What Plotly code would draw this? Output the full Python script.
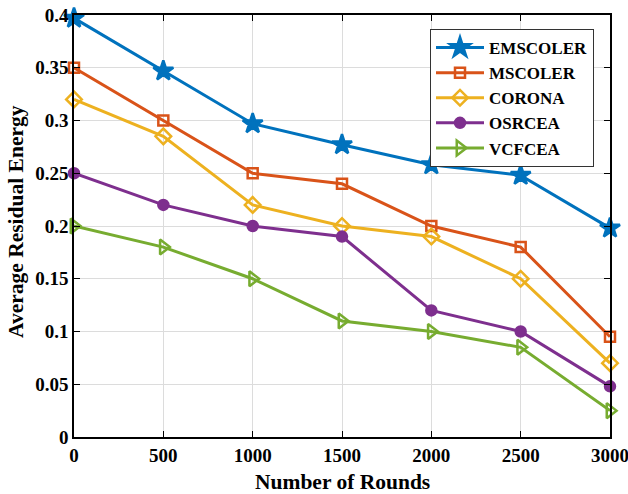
import plotly.graph_objects as go

rounds = [0, 500, 1000, 1500, 2000, 2500, 3000]
emscoler = [0.397, 0.347, 0.297, 0.277, 0.258, 0.248, 0.198]
mscoler = [0.35, 0.30, 0.25, 0.24, 0.20, 0.18, 0.095]
corona = [0.32, 0.285, 0.22, 0.20, 0.19, 0.15, 0.07]
osrcea = [0.25, 0.22, 0.20, 0.19, 0.12, 0.10, 0.048]
vcfcea = [0.20, 0.18, 0.15, 0.11, 0.10, 0.085, 0.025]
x_ticks = [0, 500, 1000, 1500, 2000, 2500, 3000]
y_ticks = [0, 0.05, 0.1, 0.15, 0.2, 0.25, 0.3, 0.35, 0.4]
y_ticklabels = ["0", "0.05", "0.1", "0.15", "0.2", "0.25", "0.3", "0.35", "0.4"]

series = [
    ("EMSCOLER", emscoler, "#0072BD", "star", 15),
    ("MSCOLER", mscoler, "#D95319", "square-open", 10),
    ("CORONA", corona, "#EDB120", "diamond-open", 12),
    ("OSRCEA", osrcea, "#7E2F8E", "circle", 10),
    ("VCFCEA", vcfcea, "#77AC30", "triangle-right-open", 13),
]

fig = go.Figure()
for name, vals, color, sym, size in series:
    fig.add_trace(go.Scatter(
        x=rounds, y=vals, name="<b>%s</b>" % name, mode="lines+markers",
        line=dict(color=color, width=3),
        marker=dict(symbol=sym, size=size, color=color,
                    line=dict(color=color, width=2.5)),
        cliponaxis=False,
    ))

W, H = 628, 494
L, R, T, B = 74, 18, 15, 57
pw = W - L - R
ph = H - T - B

tickfont = dict(family="Liberation Serif", size=19, color="black")
fig.update_layout(
    width=W, height=H,
    margin=dict(l=L, r=R, t=T, b=B),
    paper_bgcolor="white", plot_bgcolor="white",
    font=dict(family="Liberation Serif", size=17, color="black"),
    showlegend=True,
    legend=dict(x=(430 - 74) / pw, y=(437 - 29) / ph, xanchor="left", yanchor="top",
                bgcolor="white", bordercolor="#333", borderwidth=1,
                font=dict(family="Liberation Serif", size=17, color="black"),
                tracegroupgap=0, itemwidth=48),
    xaxis=dict(range=[0, 3000], tickvals=x_ticks,
               ticktext=["<b>%d</b>" % v for v in x_ticks], tickfont=tickfont,
               showgrid=True, gridcolor="#dcdcdc", gridwidth=1,
               showline=True, linecolor="black", linewidth=1.5, mirror="ticks",
               ticks="inside", ticklen=6, tickcolor="black",
               ticklabeloverflow="allow",
               automargin=False, zeroline=False),
    yaxis=dict(range=[0, 0.4], tickvals=y_ticks,
               ticktext=["<b>%s</b>" % t for t in y_ticklabels], tickfont=tickfont,
               showgrid=True, gridcolor="#dcdcdc", gridwidth=1,
               showline=True, linecolor="black", linewidth=1.5, mirror="ticks",
               ticks="inside", ticklen=6, tickcolor="black",
               ticklabeloverflow="allow",
               automargin=False, zeroline=False),
    annotations=[
        dict(text="<b>Number of Rounds</b>", x=0.5, y=(437 - 482) / ph,
             xref="paper", yref="paper",
             xanchor="center", yanchor="middle", showarrow=False,
             font=dict(family="Liberation Serif", size=21.5, color="black")),
        dict(text="<b>Average Residual Energy</b>", x=(16 - 74) / pw, y=(437 - 222) / ph,
             xref="paper", yref="paper",
             showarrow=False, textangle=-90, xanchor="center", yanchor="middle",
             font=dict(family="Liberation Serif", size=21.5, color="black")),
    ],
)

fig.write_html("out.html", config={"displayModeBar": False},
               post_script="document.body.style.margin='0';document.body.style.overflow='hidden';")
